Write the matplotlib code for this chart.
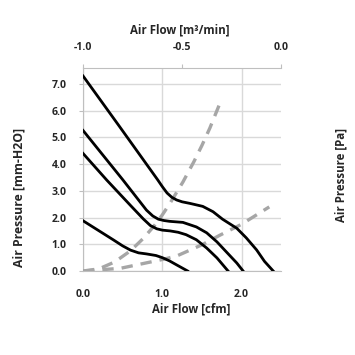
import matplotlib
matplotlib.use("Agg")
import matplotlib.pyplot as plt

# fan P-Q curves (x in cfm, y in mm-H2O)
cfm_1 = [0.0, 0.45, 0.94, 1.00, 1.06, 1.12, 1.18, 1.25, 1.35, 1.51, 1.64, 1.76, 1.94, 2.06, 2.19, 2.29, 2.40]
p_1 = [7.30, 5.45, 3.42, 3.16, 2.92, 2.76, 2.66, 2.59, 2.53, 2.42, 2.22, 1.94, 1.60, 1.24, 0.79, 0.36, 0.0]

cfm_2 = [0.0, 0.50, 0.80, 0.88, 0.95, 1.02, 1.09, 1.26, 1.43, 1.56, 1.69, 1.81, 1.94, 2.02]
p_2 = [5.26, 3.42, 2.28, 2.06, 1.94, 1.89, 1.86, 1.82, 1.65, 1.43, 1.09, 0.71, 0.30, 0.0]

cfm_3 = [0.0, 0.30, 0.60, 0.76, 0.85, 0.93, 1.00, 1.10, 1.20, 1.30, 1.43, 1.56, 1.69, 1.83]
p_3 = [4.40, 3.40, 2.45, 1.95, 1.70, 1.58, 1.53, 1.50, 1.45, 1.36, 1.17, 0.86, 0.49, 0.0]

cfm_4 = [0.0, 0.38, 0.50, 0.60, 0.70, 0.80, 0.92, 1.00, 1.09, 1.18, 1.32]
p_4 = [1.88, 1.17, 0.94, 0.78, 0.68, 0.64, 0.58, 0.50, 0.38, 0.23, 0.0]

# system impedance curves (gray dashed)
cfm_sys_a = [0.0, 0.20, 0.40, 0.60, 0.76, 0.90, 1.00, 1.10, 1.26, 1.40, 1.50, 1.60, 1.73]
p_sys_a = [0.0, 0.08, 0.34, 0.76, 1.22, 1.70, 2.10, 2.55, 3.33, 4.10, 4.70, 5.35, 6.30]

cfm_sys_b = [0.0, 0.47, 1.00, 1.18, 1.50, 1.72, 2.00, 2.35]
p_sys_b = [0.0, 0.10, 0.43, 0.56, 0.98, 1.33, 1.75, 2.40]

x_ticks = [0.0, 1.0, 2.0]
y_ticks = [0.0, 1.0, 2.0, 3.0, 4.0, 5.0, 6.0, 7.0]
top_ticks = [-1.0, -0.5, 0.0]

plt.rcParams["font.family"] = ["Open Sans", "DejaVu Sans"]
plt.rcParams["font.weight"] = "bold"
TXT = "#262626"
AXC = "#bfbfbf"
GRID = "#d9d9d9"
LBL = 8.3
TCK = 7.6

fig = plt.figure(figsize=(3.55, 3.55), dpi=100)
ax = fig.add_axes([0.234, 0.2366, 0.558, 0.5719])

for xs, ys in [(cfm_sys_a, p_sys_a), (cfm_sys_b, p_sys_b)]:
    ax.plot(xs, ys, color="#a6a6a6", lw=2.4, ls=(0, (3.4, 2.4)),
            solid_capstyle="butt", zorder=3)
for xs, ys in [(cfm_1, p_1), (cfm_2, p_2), (cfm_3, p_3), (cfm_4, p_4)]:
    ax.plot(xs, ys, color="black", lw=2.0, solid_joinstyle="round", zorder=4)

ax.set_xlim(0, 2.5)
ax.set_ylim(0, 7.6)
ax.set_xticks(x_ticks)
ax.set_yticks(y_ticks)
ax.set_xticklabels(["%.1f" % v for v in x_ticks])
ax.set_yticklabels(["%.1f" % v for v in y_ticks])
ax.grid(True, color=GRID, lw=1.0)
ax.set_axisbelow(True)
ax.tick_params(axis="x", length=0, pad=13, labelsize=TCK, labelcolor=TXT)
ax.tick_params(axis="y", length=3, color=AXC, pad=9, labelsize=TCK,
               labelcolor=TXT)
for side in ("left", "bottom"):
    ax.spines[side].set_color(AXC)
for side in ("right", "top"):
    ax.spines[side].set_visible(False)

ax.set_xlabel("Air Flow [cfm]", fontsize=LBL, color=TXT, fontweight="bold")
ax.xaxis.set_label_coords(0.545, -0.153)
ax.set_ylabel("Air Pressure [mm-H2O]", fontsize=8.8, color=TXT,
              fontweight="bold")
ax.yaxis.set_label_coords(-0.293, 0.36)
ax.text(1.30, 0.473, "Air Pressure [Pa]", rotation=90, transform=ax.transAxes,
        ha="center", va="center", fontsize=LBL, color=TXT, fontweight="bold")

top = ax.twiny()
top.set_xlim(-1.0, 0.0)
top.set_xticks(top_ticks)
top.set_xticklabels(["%.1f" % v for v in top_ticks])
top.tick_params(axis="x", length=3, color=AXC, pad=8, labelsize=TCK,
                labelcolor=TXT)
top.spines["top"].set_color(AXC)
for side in ("left", "right", "bottom"):
    top.spines[side].set_visible(False)
top.set_xlabel("Air Flow [m³/min]", fontsize=LBL, color=TXT, fontweight="bold")
top.xaxis.set_label_coords(0.49, 1.172)

fig.savefig("out.png", dpi=100)
